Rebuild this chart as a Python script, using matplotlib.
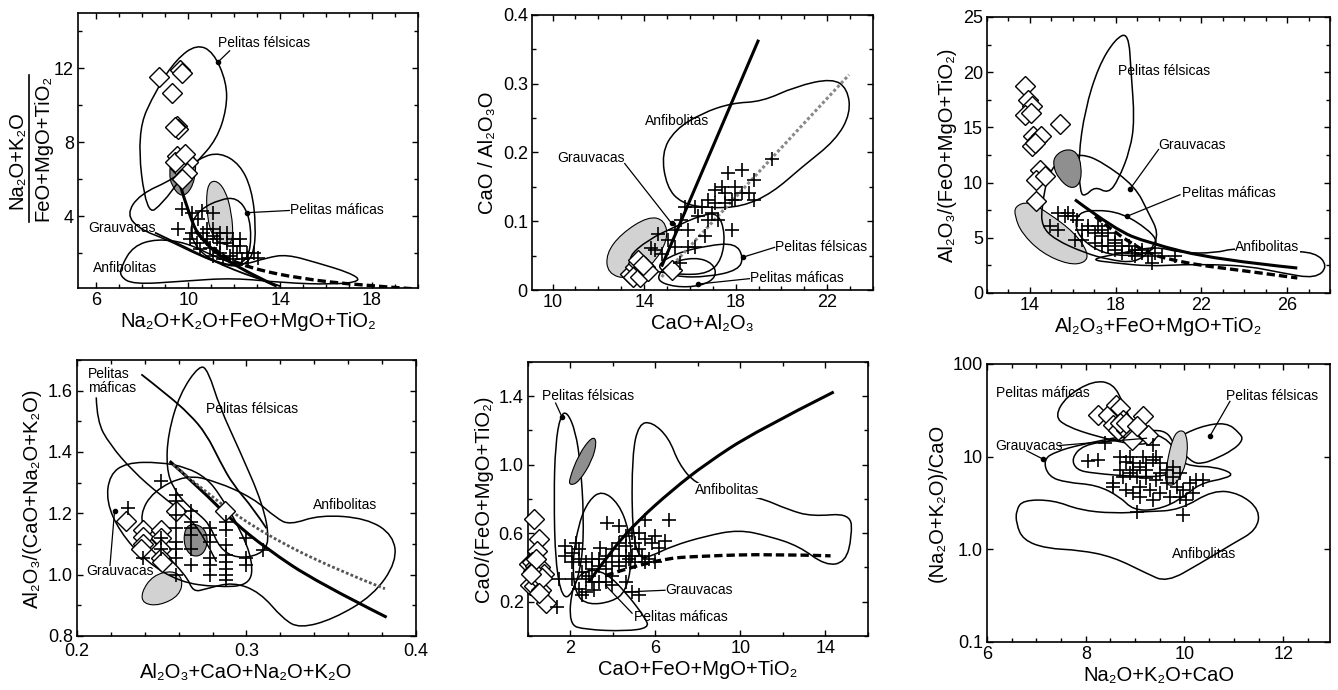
import numpy as np
import matplotlib.pyplot as plt
from matplotlib.path import Path
from matplotlib.patches import PathPatch
from matplotlib.ticker import MultipleLocator, FixedLocator, FuncFormatter, NullLocator

plt.rcParams['font.family'] = ['Liberation Sans', 'DejaVu Sans']

# ---------------- data ----------------
# Panel 1: (Na2O+K2O)/(FeO+MgO+TiO2) vs Na2O+K2O+FeO+MgO+TiO2
P1_FELSICAS = [(8.18, 4.0), (7.75, 8.52), (8.62, 10.9), (9.49, 12.5), (10.36, 13.3), (11.09, 12.9),
               (11.67, 11.24), (11.67, 9.79), (11.24, 8.16), (10.36, 6.9), (9.64, 5.99), (8.91, 4.72)]
P1_GRAUVACAS = [(7.31, 4.09), (7.89, 5.18), (9.35, 5.99), (10.51, 7.17), (11.38, 7.45), (12.25, 6.8),
                (12.76, 5.45), (12.95, 3.46), (12.84, 1.83), (12.25, 1.2), (11.24, 1.47), (10.22, 2.01),
                (9.05, 2.73), (7.89, 3.28)]
P1_MAFICAS = [(10.07, 3.46), (10.51, 4.36), (11.38, 4.9), (12.11, 5.0), (12.62, 4.18), (12.76, 2.73),
              (12.55, 1.56), (11.82, 1.29), (10.8, 1.74), (10.22, 2.55)]
P1_ANFIBOLITAS = [(7.09, 1.29), (7.6, 2.37), (8.62, 2.77), (9.93, 2.55), (11.09, 1.83), (12.25, 1.29),
                  (13.42, 1.74), (14.29, 1.92), (15.6, 1.47), (17.05, 0.92), (17.56, 0.47), (16.33, 0.29),
                  (14.15, 0.38), (11.96, 0.65), (9.78, 0.47), (7.6, 0.29), (7.02, 0.74)]
P1_DARK = [(9.27, 7.08), (9.71, 7.71), (10.22, 7.44), (10.36, 6.53), (10.15, 5.45), (9.71, 5.0),
           (9.27, 5.63), (9.17, 6.35)]
P1_LIGHT = [(10.8, 5.63), (11.16, 5.99), (11.6, 5.45), (11.89, 4.18), (11.96, 2.73), (11.67, 2.37),
            (11.09, 2.73), (10.8, 4.0)]
P1_BOLD = [(9.64, 5.72), (10.0, 4.18), (10.51, 2.73), (11.96, 1.29), (13.85, 0.2)]
P1_LINE2 = [(8.55, 3.1), (9.93, 2.28), (11.24, 1.47), (12.69, 0.74), (14.0, 0.2)]
P1_DASHED = [(10.3, 3.2), (11.2, 2.0), (12.6, 1.2), (14.9, 0.6), (17.5, 0.25), (19.9, 0.05)]
P1_DIAMONDS = [(8.73, 11.55), (9.64, 11.91), (9.71, 11.75), (9.27, 10.64), (9.49, 8.89), (9.56, 8.71),
               (9.42, 8.8), (9.49, 7.26), (9.78, 7.08), (10.0, 6.9), (9.64, 6.62), (9.93, 6.35),
               (9.71, 5.99), (9.42, 6.9), (9.85, 7.35)]
P1_PLUS = [(9.71, 4.4), (9.56, 3.31), (10.15, 4.18), (10.58, 4.27), (10.44, 3.82), (10.15, 3.1),
           (11.09, 3.28), (11.38, 3.1), (10.8, 2.73), (11.24, 2.73), (11.67, 2.55), (11.96, 2.37),
           (12.25, 2.37), (12.55, 2.01), (12.84, 2.01), (13.05, 1.74), (10.51, 2.19), (10.95, 2.28),
           (11.38, 2.01), (11.82, 1.83), (12.11, 2.01), (12.62, 1.74), (11.09, 4.18), (10.65, 3.1),
           (11.38, 2.55), (10.8, 3.28), (11.09, 2.91), (11.67, 3.1), (11.96, 2.73), (12.25, 2.73),
           (11.09, 1.83), (11.53, 1.65), (11.96, 1.65), (12.33, 1.65), (10.07, 2.73), (10.36, 2.55)]

# Panel 2: CaO/Al2O3 vs CaO+Al2O3
P2_ANFIBOLITAS = [(14.76, 0.199), (15.34, 0.233), (16.51, 0.257), (17.83, 0.272), (19.15, 0.274),
                  (20.61, 0.296), (22.22, 0.308), (22.88, 0.293), (23.02, 0.257), (22.37, 0.218),
                  (20.9, 0.179), (19.59, 0.141), (18.27, 0.121), (16.81, 0.119), (15.63, 0.126),
                  (14.98, 0.150)]
P2_GRAUVACAS = [(13.29, 0.048), (14.17, 0.073), (15.34, 0.092), (16.51, 0.109), (17.24, 0.112),
                (17.54, 0.082), (17.39, 0.044), (16.81, 0.024), (15.63, 0.022), (14.46, 0.027),
                (13.59, 0.034)]
P2_FELSICAS = [(14.46, 0.034), (15.34, 0.053), (16.81, 0.065), (17.98, 0.068), (18.34, 0.048),
               (18.12, 0.029), (16.81, 0.019), (15.34, 0.019)]
P2_MAFICAS = [(14.46, 0.015), (15.05, 0.039), (16.22, 0.048), (17.02, 0.039), (17.17, 0.019),
              (16.51, 0.0058), (15.34, 0.0039)]
P2_LIGHT = [(12.34, 0.053), (13.0, 0.082), (14.17, 0.107), (14.9, 0.102), (15.05, 0.073),
            (14.32, 0.034), (13.29, 0.015), (12.41, 0.024)]
P2_BOLD = [(14.76, 0.034), (19.0, 0.364)]
P2_DOTTED = [(14.76, 0.019), (22.95, 0.313)]
P2_DIAMONDS = [(13.37, 0.024), (13.59, 0.034), (13.73, 0.039), (13.88, 0.029), (14.02, 0.034),
               (13.51, 0.019), (13.8, 0.019), (14.17, 0.027), (13.73, 0.044), (15.2, 0.029),
               (13.95, 0.036)]
P2_PLUS = [(14.46, 0.058), (14.61, 0.082), (15.05, 0.073), (15.34, 0.087), (15.63, 0.102),
           (15.78, 0.121), (15.93, 0.087), (16.22, 0.121), (16.37, 0.107), (16.51, 0.121),
           (16.66, 0.078), (16.81, 0.131), (16.95, 0.112), (17.1, 0.145), (17.39, 0.150),
           (17.54, 0.126), (17.68, 0.17), (17.83, 0.131), (17.98, 0.150), (18.27, 0.175),
           (18.78, 0.16), (18.56, 0.141), (18.78, 0.131), (19.59, 0.19), (17.83, 0.087),
           (15.56, 0.039), (16.22, 0.063), (15.93, 0.063), (15.34, 0.063), (17.1, 0.126),
           (17.54, 0.141), (14.76, 0.053), (14.32, 0.061), (18.27, 0.141), (17.98, 0.131),
           (17.24, 0.102), (16.81, 0.102)]

# Panel 3: Al2O3/(FeO+MgO+TiO2) vs Al2O3+FeO+MgO+TiO2
P3_FELSICAS = [(16.34, 9.06), (16.26, 12.38), (16.57, 16.6), (17.19, 20.5), (17.97, 23.0), (18.6, 23.6),
               (18.72, 19.9), (18.88, 15.7), (18.68, 12.98), (18.13, 10.27), (17.66, 9.0), (17.04, 9.66),
               (16.57, 8.76)]
P3_GRAUVACAS = [(14.55, 7.85), (14.86, 10.87), (15.48, 12.2), (16.42, 12.6), (17.35, 11.9), (18.91, 9.66),
                (19.53, 7.25), (20.0, 5.43), (19.69, 3.93), (18.91, 2.72), (17.66, 3.02), (16.57, 3.62),
                (15.17, 4.83), (14.55, 6.04)]
P3_MAFICAS = [(16.1, 6.04), (16.26, 7.25), (17.04, 7.55), (18.29, 7.25), (19.53, 5.74), (20.0, 4.53),
              (19.53, 3.62), (18.6, 3.32), (17.35, 3.62), (16.42, 4.83)]
P3_ANFIBOLITAS = [(16.73, 3.02), (18.29, 3.62), (19.84, 4.23), (21.09, 3.62), (22.65, 3.62), (23.58, 4.08),
                  (25.77, 3.77), (27.32, 3.7), (27.9, 2.42), (27.32, 1.3), (25.77, 1.81), (24.21, 2.42),
                  (22.65, 2.57), (21.09, 2.57), (19.53, 2.42), (17.97, 2.72)]
P3_DARK = [(15.14, 12.38), (15.64, 13.04), (16.18, 12.83), (16.42, 11.47), (16.34, 9.81), (15.87, 9.42),
           (15.32, 10.42), (15.09, 11.47)]
P3_LIGHT = [(13.3, 7.85), (13.92, 8.3), (14.86, 7.25), (16.1, 5.43), (16.73, 3.62), (16.57, 2.72),
            (15.79, 2.57), (14.55, 3.62), (13.61, 5.43), (13.3, 6.94)]
P3_BOLD = [(16.1, 8.45), (17.97, 5.74), (19.53, 4.53), (22.65, 3.02), (26.47, 2.26)]
P3_DASHED = [(17.04, 6.94), (18.91, 3.93), (21.09, 2.72), (24.21, 1.96), (26.47, 1.36)]
P3_DIAMONDS = [(13.77, 18.72), (13.89, 17.5), (14.08, 16.9), (13.77, 16.15), (14.03, 16.3), (14.16, 14.19),
               (14.31, 13.89), (14.51, 14.19), (14.08, 13.29), (14.23, 13.59), (15.4, 15.31), (14.47, 11.17),
               (14.28, 10.27), (14.7, 10.57), (14.28, 8.3)]
P3_PLUS = [(15.32, 7.25), (15.64, 6.94), (16.03, 6.94), (14.94, 6.04), (15.32, 5.74), (16.18, 6.64),
           (16.73, 5.74), (17.19, 6.04), (17.66, 5.43), (16.1, 4.83), (16.42, 4.83), (17.04, 4.53),
           (17.35, 4.23), (17.97, 3.93), (18.29, 3.62), (18.91, 3.93), (19.22, 3.62), (19.53, 3.32),
           (20.16, 3.32), (20.78, 3.32), (16.73, 6.04), (17.35, 5.13), (17.97, 4.83), (18.6, 4.23),
           (17.66, 4.23), (18.29, 4.23), (18.91, 3.32), (19.69, 2.72), (18.75, 3.62), (17.04, 5.43),
           (16.42, 5.74), (15.79, 7.25), (17.35, 5.74), (17.97, 4.53), (19.22, 3.93), (19.84, 3.62)]

# Panel 4: Al2O3/(CaO+Na2O+K2O) vs Al2O3+CaO+Na2O+K2O
P4_FELSICAS = [(0.2528, 1.348), (0.2537, 1.458), (0.2606, 1.589), (0.2724, 1.685), (0.2774, 1.665),
               (0.2843, 1.545), (0.2961, 1.403), (0.3098, 1.228), (0.3138, 1.107), (0.3079, 1.064),
               (0.2941, 1.053), (0.2843, 1.085), (0.2783, 1.162), (0.2724, 1.195), (0.2646, 1.228),
               (0.2567, 1.282)]
P4_GRAUVACAS = [(0.2193, 1.326), (0.2291, 1.365), (0.2488, 1.367), (0.2646, 1.35), (0.2764, 1.315),
                (0.2843, 1.261), (0.2961, 1.151), (0.3039, 1.042), (0.302, 0.965), (0.2823, 0.959),
                (0.2606, 0.976), (0.2409, 1.042), (0.2252, 1.14), (0.2173, 1.239)]
P4_ANFIBOLITAS = [(0.237, 1.195), (0.2449, 1.272), (0.2646, 1.326), (0.2823, 1.304), (0.3039, 1.25),
                  (0.3177, 1.184), (0.3256, 1.162), (0.3433, 1.195), (0.3709, 1.184), (0.3866, 1.129),
                  (0.3886, 1.042), (0.3748, 0.932), (0.3512, 0.855), (0.3315, 0.825), (0.3217, 0.855),
                  (0.3079, 0.943), (0.2921, 0.976), (0.2764, 0.954), (0.2685, 0.943), (0.2646, 0.998),
                  (0.2409, 1.129)]
P4_MAFICAS_L = [(0.2114, 1.578), (0.2118, 1.501), (0.2193, 1.425), (0.2331, 1.337), (0.2488, 1.261),
                (0.2646, 1.195), (0.2744, 1.129), (0.2823, 1.042)]
P4_MAFICAS_R = [(0.238, 1.653), (0.2528, 1.589), (0.2665, 1.523), (0.2764, 1.458), (0.2843, 1.37),
                (0.2921, 1.293), (0.3039, 1.217), (0.3118, 1.151)]
P4_BOLD = [(0.2547, 1.37), (0.2724, 1.282), (0.2921, 1.173), (0.3118, 1.085), (0.3413, 0.976),
           (0.3827, 0.861)]
P4_DOTTED = [(0.2567, 1.359), (0.2823, 1.239), (0.3118, 1.129), (0.3512, 1.02), (0.3817, 0.954)]
P4_LIGHT = [(0.238, 0.943), (0.2449, 0.998), (0.2567, 1.014), (0.2626, 0.987), (0.2606, 0.932),
            (0.2488, 0.899), (0.239, 0.905)]
P4_DARK = [(0.2636, 1.151), (0.2685, 1.168), (0.2754, 1.151), (0.2774, 1.107), (0.2744, 1.064),
           (0.2675, 1.058), (0.263, 1.096)]
P4_DIAMONDS = [(0.229, 1.175), (0.239, 1.146), (0.239, 1.124), (0.239, 1.099), (0.238, 1.085),
               (0.2498, 1.146), (0.2498, 1.118), (0.2498, 1.085), (0.2498, 1.053), (0.2504, 1.042),
               (0.2587, 1.206), (0.2872, 1.206)]
P4_PLUS = [(0.2301, 1.217), (0.239, 1.053), (0.2498, 1.304), (0.2498, 1.118), (0.2498, 1.085),
           (0.2587, 1.261), (0.2587, 1.239), (0.2587, 1.195), (0.2587, 1.151), (0.2587, 1.107),
           (0.2587, 1.085), (0.2587, 1.053), (0.2587, 0.998),
           (0.2675, 1.206), (0.2675, 1.173), (0.2675, 1.151), (0.2675, 1.129), (0.2675, 1.085),
           (0.2675, 1.031),
           (0.2783, 1.151), (0.2783, 1.129), (0.2783, 1.107), (0.2783, 1.053), (0.2783, 1.031),
           (0.2783, 0.998),
           (0.2882, 1.173), (0.2882, 1.146), (0.2882, 1.096), (0.2882, 1.064), (0.2882, 1.042),
           (0.2882, 1.02), (0.2882, 0.998), (0.2882, 0.981),
           (0.2996, 1.118), (0.2996, 1.053), (0.2996, 1.031), (0.3098, 1.08)]

# Panel 5: CaO/(FeO+MgO+TiO2) vs CaO+FeO+MgO+TiO2
P5_FELSICAS = [(1.29, 1.119), (1.53, 1.29), (1.84, 1.31), (2.24, 1.195), (2.47, 1.004), (2.63, 0.698),
               (2.55, 0.43), (2.08, 0.24), (1.61, 0.22), (1.29, 0.43), (1.22, 0.812)]
P5_DARK = [(1.92, 0.908), (2.39, 1.061), (3.02, 1.166), (3.25, 1.138), (3.02, 1.023), (2.39, 0.899),
           (2.0, 0.879)]
P5_GRAUVACAS = [(2.08, 0.43), (2.39, 0.659), (2.86, 0.793), (3.49, 0.85), (4.27, 0.774), (4.75, 0.621),
                (4.9, 0.43), (4.59, 0.257), (3.96, 0.2), (2.86, 0.181), (2.24, 0.238)]
P5_MAFICAS = [(1.92, 0.066), (2.08, 0.296), (2.71, 0.391), (3.65, 0.372), (4.59, 0.257), (5.53, 0.104),
              (5.69, 0.047), (4.59, 0.028), (2.71, 0.037)]
P5_ANFIBOLITAS = [(4.9, 0.621), (4.9, 1.061), (5.22, 1.24), (5.84, 1.25), (6.63, 1.157), (7.1, 1.004),
                  (7.88, 0.889), (9.29, 0.832), (10.86, 0.812), (12.27, 0.736), (13.37, 0.698),
                  (15.18, 0.717), (15.25, 0.583), (14.94, 0.43), (14.0, 0.411), (12.75, 0.525),
                  (11.33, 0.583), (9.92, 0.621), (8.35, 0.583), (6.78, 0.525), (5.84, 0.468),
                  (5.22, 0.449)]
P5_BOLD = [(2.86, 0.315), (3.96, 0.506), (5.22, 0.678), (6.78, 0.851), (8.35, 1.004), (10.71, 1.195),
           (14.39, 1.425)]
P5_DASHED = [(3.65, 0.353), (6.0, 0.449), (8.35, 0.468), (11.49, 0.478), (14.24, 0.468)]
P5_DIAMONDS = [(0.27, 0.682), (0.51, 0.564), (0.43, 0.497), (0.05, 0.42), (0.2, 0.43), (0.35, 0.41),
               (0.55, 0.40), (0.75, 0.36), (0.1, 0.30), (0.3, 0.29), (0.45, 0.33), (0.6, 0.27),
               (0.85, 0.19), (0.25, 0.38), (0.4, 0.45), (0.65, 0.34), (0.15, 0.36), (0.5, 0.25)]
P5_PLUS = [(1.37, 0.171), (1.76, 0.525), (2.24, 0.544), (1.76, 0.468), (2.08, 0.43), (2.39, 0.449),
           (2.71, 0.43), (3.02, 0.449), (3.41, 0.516), (3.73, 0.659), (4.27, 0.64), (4.59, 0.525),
           (4.9, 0.602), (5.22, 0.602), (5.53, 0.678), (6.0, 0.583), (6.63, 0.678), (6.47, 0.554),
           (6.16, 0.516), (5.84, 0.544), (5.53, 0.564), (5.22, 0.506), (4.9, 0.468), (4.59, 0.43),
           (4.27, 0.468), (3.96, 0.43), (3.65, 0.391), (3.33, 0.411), (3.02, 0.391), (2.71, 0.334),
           (3.02, 0.315), (3.33, 0.315), (3.65, 0.315), (3.96, 0.296), (2.39, 0.277), (2.71, 0.257),
           (3.1, 0.267), (2.55, 0.238), (4.27, 0.411), (4.75, 0.449), (5.22, 0.238), (4.9, 0.257),
           (4.59, 0.315), (3.96, 0.353), (2.08, 0.334), (2.55, 0.372), (2.86, 0.353), (1.45, 0.334),
           (3.96, 0.506), (4.27, 0.544), (4.59, 0.583), (5.06, 0.544), (5.37, 0.468), (5.69, 0.449),
           (6.0, 0.43), (3.65, 0.468), (3.33, 0.449), (2.08, 0.487), (2.39, 0.506), (4.59, 0.468),
           (5.06, 0.43), (5.53, 0.43)]

# Panel 6: (Na2O+K2O)/CaO vs Na2O+K2O+CaO (log y)
P6_MAFICAS = [(7.37, 27.2), (7.61, 45.0), (8.15, 66.0), (8.55, 62.0), (8.76, 37.9), (8.96, 21.2),
              (9.23, 19.5), (9.43, 16.5), (9.36, 14.0), (8.96, 13.4), (8.22, 16.5), (7.61, 21.2)]
P6_FELSICAS = [(9.77, 15.2), (10.31, 21.2), (10.85, 23.5), (11.12, 17.9), (11.19, 15.2), (10.99, 11.8),
               (10.58, 9.22), (10.38, 8.49), (10.18, 8.49), (9.91, 11.8)]
P6_INNER = [(7.71, 9.6), (7.95, 13.4), (8.55, 14.9), (9.16, 18.7), (9.57, 19.5), (9.77, 15.2),
            (9.91, 7.82), (9.64, 6.1), (8.96, 6.1), (8.15, 6.62), (7.81, 7.19)]
P6_GRAUVACAS = [(7.14, 9.37), (7.24, 6.1), (7.61, 5.25), (8.22, 4.95), (8.69, 3.7), (8.96, 2.65),
                (9.43, 2.65), (9.91, 3.4), (10.31, 5.16), (10.85, 5.85), (10.99, 6.62), (10.58, 7.82),
                (10.18, 7.82), (9.91, 8.86), (9.7, 15.2), (9.23, 18.7), (8.55, 15.8), (7.88, 13.4),
                (7.41, 11.4)]
P6_ANFIBOLITAS = [(6.59, 2.65), (6.73, 3.4), (7.34, 3.4), (7.88, 2.65), (8.55, 2.44), (9.23, 2.55),
                  (9.91, 2.65), (10.58, 4.37), (11.12, 4.02), (11.53, 2.65), (11.46, 1.61), (10.99, 1.16),
                  (10.31, 0.70), (9.64, 0.44), (9.23, 0.55), (8.55, 0.83), (7.88, 0.98), (7.2, 1.02),
                  (6.73, 1.26), (6.59, 1.9)]
P6_LIGHT = [(9.77, 16.5), (9.91, 19.5), (10.04, 17.9), (10.07, 10.9), (9.97, 6.62), (9.77, 4.75),
            (9.6, 5.16), (9.64, 8.49)]
P6_DIAMONDS = [(8.25, 28.3), (8.45, 28.3), (8.62, 36.3), (8.69, 33.4), (8.55, 22.1), (8.76, 25.0),
               (8.66, 19.5), (8.82, 19.5), (8.96, 16.5), (9.16, 27.2), (9.26, 17.2), (8.93, 15.2),
               (8.69, 23.0), (8.82, 23.0), (9.03, 21.2)]
P6_PLUS = [(8.05, 9.08), (8.25, 9.22), (8.39, 14.0), (8.55, 5.16), (8.82, 4.37), (8.69, 10.0),
           (8.82, 8.86), (8.96, 8.49), (9.09, 7.82), (9.23, 8.49), (9.36, 9.22), (9.5, 8.49),
           (9.64, 7.19), (9.77, 7.82), (9.91, 6.62), (8.69, 7.19), (8.89, 6.62), (9.03, 6.1),
           (9.23, 5.85), (9.43, 5.61), (9.64, 5.16), (9.84, 4.75), (9.97, 4.37), (10.11, 5.16),
           (10.24, 5.61), (10.38, 5.61), (10.18, 4.02), (10.04, 3.4), (9.91, 3.7), (9.7, 3.7),
           (9.5, 4.02), (9.3, 4.37), (9.09, 4.75), (8.96, 4.02), (9.09, 3.7), (9.36, 3.4),
           (9.03, 2.55), (9.97, 2.34), (9.36, 13.4), (9.43, 10.0), (8.89, 10.0), (9.16, 10.0),
           (8.96, 7.19), (9.23, 7.19), (9.5, 6.62), (9.77, 6.1), (8.55, 4.75), (8.76, 6.1)]


# ---------------- helpers ----------------
def closed_path(pts, logy=False):
    pts = np.asarray(pts, float)
    nxt = np.roll(pts, -1, axis=0)
    mids = (pts + nxt) / 2
    if logy:
        mids[:, 1] = np.sqrt(pts[:, 1] * nxt[:, 1])
    verts = [mids[-1]]
    codes = [Path.MOVETO]
    for p, m in zip(pts, mids):
        verts += [p, m]
        codes += [Path.CURVE3, Path.CURVE3]
    return Path(verts, codes)


def open_path(pts, logy=False):
    pts = np.asarray(pts, float)
    if len(pts) == 2:
        return Path(pts, [Path.MOVETO, Path.LINETO])
    verts = [pts[0]]
    codes = [Path.MOVETO]
    for i in range(1, len(pts) - 1):
        if i == len(pts) - 2:
            end = pts[-1]
        else:
            end = (pts[i] + pts[i + 1]) / 2
            if logy:
                end[1] = np.sqrt(pts[i, 1] * pts[i + 1, 1])
        verts += [pts[i], end]
        codes += [Path.CURVE3, Path.CURVE3]
    return Path(verts, codes)


def field(ax, pts, fc='none', lw=1.1, logy=False, z=2):
    ax.add_patch(PathPatch(closed_path(pts, logy), facecolor=fc, edgecolor='black', lw=lw, zorder=z))


def curve(ax, pts, lw=1.1, ls='-', color='black', logy=False, z=3):
    ax.add_patch(PathPatch(open_path(pts, logy), facecolor='none', edgecolor=color, lw=lw,
                           linestyle=ls, capstyle='butt', zorder=z))


def points(ax, diamonds, plus):
    dx, dy = zip(*diamonds)
    ax.plot(dx, dy, 'D', ms=10, mfc='white', mec='black', mew=1.0, zorder=4, clip_on=False)
    px, py = zip(*plus)
    ax.plot(px, py, '+', ms=10, mew=1.2, color='black', zorder=5)


def label(ax, x, y, s, ha='left', box=False):
    kw = {}
    if box:
        kw['bbox'] = dict(facecolor='white', edgecolor='none', pad=0.5)
    ax.text(x, y, s, fontsize=10, ha=ha, va='center', zorder=7, **kw)


def leader(ax, p0, p1, dot=True):
    ax.plot([p0[0], p1[0]], [p0[1], p1[1]], color='black', lw=0.9, zorder=6)
    if dot:
        ax.plot(p1[0], p1[1], 'o', ms=3, color='black', zorder=6)


def style(ax, xlim, ylim, xmaj, xmin, ymaj=None, ymin=None):
    ax.set_xlim(*xlim)
    ax.set_ylim(*ylim)
    ax.xaxis.set_major_locator(FixedLocator(xmaj))
    ax.xaxis.set_minor_locator(MultipleLocator(xmin))
    if ymaj is not None:
        ax.yaxis.set_major_locator(FixedLocator(ymaj))
        ax.yaxis.set_minor_locator(MultipleLocator(ymin))
    ax.tick_params(which='both', direction='in', top=True, right=True, width=1.0)
    ax.tick_params(which='major', length=4.5, labelsize=13, pad=3)
    ax.tick_params(which='minor', length=3)
    for s in ax.spines.values():
        s.set_linewidth(1.2)


fig = plt.figure(figsize=(13.38, 6.9), dpi=100)
fig.patch.set_facecolor('white')
LAB = 14.5
LIGHT = '#d2d2d2'
DARK = '#8f8f8f'

# ---------------- panel 1 ----------------
ax = fig.add_axes([0.0583, 0.5826, 0.2541, 0.3986])
field(ax, P1_ANFIBOLITAS)
field(ax, P1_GRAUVACAS)
field(ax, P1_MAFICAS)
field(ax, P1_FELSICAS)
field(ax, P1_LIGHT, fc=LIGHT, lw=0.8, z=1.5)
field(ax, P1_DARK, fc=DARK, lw=0.8, z=1.5)
curve(ax, P1_BOLD, lw=2.2)
curve(ax, P1_LINE2, lw=1.3)
curve(ax, P1_DASHED, lw=2.4, ls=(0, (2.5, 1.2)))
points(ax, P1_DIAMONDS, P1_PLUS)
label(ax, 11.31, 13.36, 'Pelitas félsicas')
leader(ax, (11.8, 12.95), (11.31, 12.36))
label(ax, 14.44, 4.33, 'Pelitas máficas')
leader(ax, (14.4, 4.3), (12.55, 4.18))
label(ax, 5.64, 3.37, 'Grauvacas')
label(ax, 5.85, 1.2, 'Anfibolitas')
style(ax, (5.2, 20), (0.1, 15), [6, 10, 14, 18], 1, [4, 8, 12], 2)
ax.set_xlabel('Na₂O+K₂O+FeO+MgO+TiO₂', fontsize=LAB, labelpad=2)
fig.text(17 / 1338, 1 - 160 / 690, 'Na₂O+K₂O', rotation=90, fontsize=LAB, ha='center', va='center')
fig.text(43 / 1338, 1 - 148 / 690, 'FeO+MgO+TiO₂', rotation=90, fontsize=LAB, ha='center', va='center')
fig.add_artist(plt.Line2D([29 / 1338, 29 / 1338], [1 - 75 / 690, 1 - 222 / 690], color='black', lw=1.2))

# ---------------- panel 2 ----------------
ax = fig.add_axes([0.3976, 0.5797, 0.2549, 0.3986])
field(ax, P2_LIGHT, fc=LIGHT, lw=0.8, z=1.5)
field(ax, P2_ANFIBOLITAS)
field(ax, P2_GRAUVACAS)
field(ax, P2_FELSICAS)
field(ax, P2_MAFICAS)
curve(ax, P2_BOLD, lw=2.2)
curve(ax, P2_DOTTED, lw=2.2, ls=(0, (1, 0.8)), color='#888888')
points(ax, P2_DIAMONDS, P2_PLUS)
label(ax, 14.02, 0.246, 'Anfibolitas')
label(ax, 10.22, 0.192, 'Grauvacas')
leader(ax, (13.15, 0.184), (15.2, 0.097))
label(ax, 19.73, 0.063, 'Pelitas félsicas')
leader(ax, (19.7, 0.062), (18.34, 0.048))
label(ax, 18.63, 0.017, 'Pelitas máficas')
leader(ax, (18.6, 0.0165), (16.37, 0.0087))
style(ax, (9.1, 24), (0, 0.4), [10, 14, 18, 22], 1, [0, 0.1, 0.2, 0.3, 0.4], 0.05)
ax.yaxis.set_major_formatter(FuncFormatter(lambda v, p: '0' if abs(v) < 1e-9 else f'{v:.1f}'))
ax.set_xlabel('CaO+Al₂O₃', fontsize=LAB, labelpad=2)
ax.set_ylabel('CaO / Al₂O₃O', fontsize=LAB, labelpad=4)

# ---------------- panel 3 ----------------
ax = fig.add_axes([0.7377, 0.5754, 0.2564, 0.4])
field(ax, P3_LIGHT, fc=LIGHT, lw=0.8, z=1.5)
field(ax, P3_ANFIBOLITAS)
field(ax, P3_GRAUVACAS)
field(ax, P3_MAFICAS)
field(ax, P3_FELSICAS)
field(ax, P3_DARK, fc=DARK, lw=0.8, z=2.5)
curve(ax, P3_BOLD, lw=2.2)
curve(ax, P3_DASHED, lw=2.4, ls=(0, (2.5, 1.2)))
points(ax, P3_DIAMONDS, P3_PLUS)
label(ax, 18.13, 20.08, 'Pelitas félsicas')
label(ax, 20.0, 13.44, 'Grauvacas')
leader(ax, (20.0, 13.0), (18.68, 9.45))
label(ax, 21.09, 9.06, 'Pelitas máficas')
leader(ax, (21.0, 8.9), (18.52, 6.94))
label(ax, 23.58, 4.2, 'Anfibolitas', box=True)
style(ax, (12, 28), (0, 25), [14, 18, 22, 26], 1, [0, 5, 10, 15, 20, 25], 2.5)
ax.set_xlabel('Al₂O₃+FeO+MgO+TiO₂', fontsize=LAB, labelpad=2)
ax.set_ylabel('Al₂O₃/(FeO+MgO+TiO₂)', fontsize=LAB, labelpad=4)

# ---------------- panel 4 ----------------
ax = fig.add_axes([0.0575, 0.0783, 0.2534, 0.4])
field(ax, P4_LIGHT, fc=LIGHT, lw=0.8, z=1.5)
field(ax, P4_ANFIBOLITAS)
field(ax, P4_GRAUVACAS)
field(ax, P4_FELSICAS)
curve(ax, P4_MAFICAS_L, lw=1.1)
curve(ax, P4_MAFICAS_R, lw=1.3)
field(ax, P4_DARK, fc=DARK, lw=0.8, z=2.5)
curve(ax, P4_BOLD, lw=2.2)
curve(ax, P4_DOTTED, lw=2.0, ls=(0, (1, 0.8)), color='#555555')
points(ax, P4_DIAMONDS, P4_PLUS)
ax.text(0.2065, 1.633, 'Pelitas\nmáficas', fontsize=10, ha='left', va='center', linespacing=1.0, zorder=7)
label(ax, 0.2764, 1.54, 'Pelitas félsicas')
label(ax, 0.3394, 1.228, 'Anfibolitas')
label(ax, 0.2055, 1.011, 'Grauvacas')
leader(ax, (0.2195, 1.03), (0.2222, 1.208))
style(ax, (0.2, 0.4), (0.8, 1.7), [0.2, 0.3, 0.4], 0.02, [0.8, 1.0, 1.2, 1.4, 1.6], 0.1)
ax.tick_params(axis='x', which='major', pad=5)
ax.xaxis.set_major_formatter(FuncFormatter(lambda v, p: f'{v:.1f}'))
ax.yaxis.set_major_formatter(FuncFormatter(lambda v, p: f'{v:.1f}'))
ax.set_xlabel('Al₂O₃+CaO+Na₂O+K₂O', fontsize=LAB, labelpad=2)
ax.set_ylabel('Al₂O₃/(CaO+Na₂O+K₂O)', fontsize=LAB, labelpad=4)

# ---------------- panel 5 ----------------
ax = fig.add_axes([0.3946, 0.0783, 0.2541, 0.3971])
field(ax, P5_ANFIBOLITAS)
field(ax, P5_FELSICAS)
field(ax, P5_GRAUVACAS)
field(ax, P5_MAFICAS)
field(ax, P5_DARK, fc=DARK, lw=0.8, z=2.5)
curve(ax, P5_BOLD, lw=2.2)
curve(ax, P5_DASHED, lw=2.4, ls=(0, (2.5, 1.2)))
points(ax, P5_DIAMONDS, P5_PLUS)
label(ax, 0.67, 1.4, 'Pelitas félsicas')
leader(ax, (1.3, 1.36), (1.61, 1.276))
label(ax, 7.88, 0.851, 'Anfibolitas', box=True)
label(ax, 6.47, 0.267, 'Grauvacas')
leader(ax, (6.45, 0.267), (4.59, 0.257), dot=False)
label(ax, 4.98, 0.108, 'Pelitas máficas')
leader(ax, (4.9, 0.133), (3.65, 0.296), dot=False)
style(ax, (0, 16), (0, 1.6), [2, 6, 10, 14], 2, [0.2, 0.6, 1.0, 1.4], 0.2)
ax.yaxis.set_major_formatter(FuncFormatter(lambda v, p: f'{v:.1f}'))
ax.set_xlabel('CaO+FeO+MgO+TiO₂', fontsize=LAB, labelpad=2)
ax.set_ylabel('CaO/(FeO+MgO+TiO₂)', fontsize=LAB, labelpad=4)

# ---------------- panel 6 ----------------
ax = fig.add_axes([0.7377, 0.0696, 0.2564, 0.4029])
ax.set_yscale('log')
field(ax, P6_ANFIBOLITAS, logy=True)
field(ax, P6_GRAUVACAS, logy=True)
field(ax, P6_INNER, logy=True)
field(ax, P6_MAFICAS, logy=True)
field(ax, P6_FELSICAS, logy=True)
field(ax, P6_LIGHT, fc=LIGHT, lw=0.8, logy=True, z=2.5)
points(ax, P6_DIAMONDS, P6_PLUS)
label(ax, 6.19, 48.5, 'Pelitas máficas')
label(ax, 10.85, 44.7, 'Pelitas félsicas')
leader(ax, (10.92, 39.5), (10.51, 16.5))
label(ax, 6.16, 12.9, 'Grauvacas')
leader(ax, (7.47, 13.2), (9.23, 15.8), dot=False)
leader(ax, (6.8, 11.6), (7.14, 9.37))
label(ax, 9.74, 0.90, 'Anfibolitas')
style(ax, (6, 12.95), (0.1, 100), [6, 8, 10, 12], 0.5)
ax.yaxis.set_major_locator(FixedLocator([0.1, 1, 10, 100]))
ax.yaxis.set_minor_locator(NullLocator())
ax.yaxis.set_major_formatter(FuncFormatter(lambda v, p: {0.1: '0.1', 1: '1.0', 10: '10', 100: '100'}.get(round(v, 1), '')))
ax.set_xlabel('Na₂O+K₂O+CaO', fontsize=LAB, labelpad=2)
ax.set_ylabel('(Na₂O+K₂O)/CaO', fontsize=LAB, labelpad=4)

fig.savefig('out.png', dpi=100, facecolor='white')
